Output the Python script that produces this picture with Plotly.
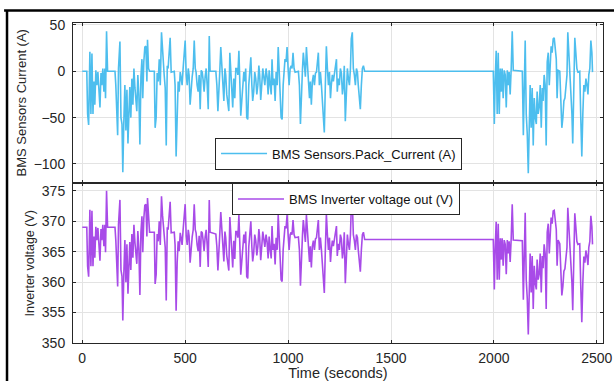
import plotly.graph_objects as go
from plotly.subplots import make_subplots

time_s = [0, 22, 26, 31, 37, 42, 47, 52, 57, 61, 66, 71, 76, 81, 86, 91, 95, 100, 105, 110, 113, 118, 123, 159,
          163, 172, 176, 183, 188, 193, 197, 202, 207, 212, 217, 222, 227, 231, 236, 241, 246, 251, 256, 261, 265,
          270, 275, 280, 285, 290, 294, 299, 304, 309, 314, 317, 322, 327, 350,
          354, 359, 364, 369, 374, 379, 385, 390, 395, 398, 403, 408, 413, 417,
          427, 432, 447, 451, 456, 461, 466, 471, 476, 481, 485, 490, 495, 500, 505, 510, 515, 519, 524, 529, 534,
          539, 544, 549, 553, 558, 563, 568, 573, 578, 583, 587, 592, 597, 602, 607, 612, 617, 621, 649,
          654, 659, 663, 668, 673, 678, 683, 688, 693, 697, 702, 707, 712, 717, 722, 727, 731, 736, 741, 746, 751,
          756, 761, 765, 770, 775, 780, 785, 790, 794, 799, 804, 809, 814, 819, 824, 828, 833, 838, 843, 848, 853,
          858, 862, 867, 872, 877, 882, 887,
          893, 898, 903, 908, 913, 918, 922, 927, 932, 937, 942, 947, 952, 956, 961, 966, 971, 976, 981, 985, 990,
          995, 1000, 1005, 1010, 1015, 1019, 1024, 1029, 1034, 1050, 1055, 1060, 1065, 1070, 1074, 1079, 1084,
          1089, 1094, 1099, 1104, 1108, 1113, 1118, 1123, 1128, 1133, 1138, 1142, 1147, 1152, 1157, 1162, 1167,
          1172, 1176, 1181, 1186, 1191, 1196, 1201, 1206, 1210, 1215, 1220, 1225, 1230, 1235, 1239, 1244, 1249,
          1254, 1259, 1264, 1269, 1273, 1278, 1283, 1288, 1293, 1298, 1303, 1307, 1312, 1317, 1322, 1327, 1332,
          1337, 1341, 1346, 1351, 1356, 1361, 1366, 1372, 1997,
          2002, 2006, 2011, 2016, 2021, 2026, 2031, 2036, 2040, 2045, 2050, 2055, 2060, 2065, 2070, 2074, 2079,
          2084, 2089, 2094, 2138, 2143, 2147, 2152, 2157, 2162, 2167, 2172, 2176, 2181, 2186, 2191, 2196, 2201,
          2206, 2210, 2215, 2220, 2225, 2230, 2235, 2239, 2244, 2249, 2254, 2259, 2264, 2269, 2273, 2278, 2283,
          2288, 2293, 2298, 2303, 2307, 2312, 2320, 2325, 2330, 2335, 2340, 2345, 2350, 2355, 2359, 2364, 2369,
          2374, 2379, 2383, 2388, 2393, 2398, 2403, 2408, 2417, 2422, 2427, 2432, 2437, 2442, 2447, 2452, 2457,
          2461, 2466, 2471, 2476, 2479]

pack_current = [0, 0, -46, -58, 21, -46, 19, -46, -11, -36, 1, -15, -1, -25, -39, -2, -15, 3, -22, 3, -29, 43, 0, 0,
                -15, -69, 3, 32, -50, -57, -109, -54, -15, -64, -20, -78, -36, -17, -50, -8, -36, 3, -18, -32, -43,
                -4, -25, -79, -6, 13, -29, 10, 26, 27, -11, 34, 3, 0, 0,
                -61, -50, -2, -11, 13, -15, 42, 20, 6, -4, -18, -80, 6, 3,
                36, -1, 0, -15, -92, -36, -11, -22, -1, -8, -15, 3, 17, 33, -4, -15, 3, -4, -36, -15, -6,
                3, 33, 3, -1, -15, -22, -4, -41, 1, -1, -9, -22, -6, 3, -15, -41, 38, 0, 0,
                -15, -43, -15, -1, 26, 3, -15, -32, 3, -4, -25, -36, -43, 20, -1, -15, -39, -8, -29, 3, 3,
                -4, 22, -8, -48, -32, -15, -1, -11, 3, -50, -52, -15, 6, 15, -15, -32, -22, -1, -8, -25, -15,
                6, -4, -31, -15, 3, -6, -15,
                3, -6, -25, 1, -15, -25, 13, -15, -8, -32, -1, -15, 26, -4, -22, -50, -52, -15, -1, 13, 10,
                26, 3, -15, 3, 6, 3, 20, 3, -1, 0, -15, -57, -15, 3, 20, 3, -6,
                26, 6, -15, -29, -11, -36, -11, -4, -15, -2, -1, 10, 20, -15, -1, -15, -32,
                -46, -66, -15, 27, 3, -15, -1, -29, -15, -4, -11, -1, 3, 13, -22, -8, -15,
                3, -2, -25, -15, 6, -54, -15, 3, -8, -15, 3, 35, 42, 3, -4, -15, 3,
                -1, -15, -32, -41, -15, 3, 6, 0, 0,
                -57, -11, 22, -46, 20, -46, 3, -22, 3, -29, 1, -4, -39, 1, -15, -1, -25,
                3, 43, 1, 0, -69, 5, 33, -46, -68, -110, -43, -15, -61, -18, -80, -29, -50,
                -57, -22, -46, -39, -15, -61, -18, -32, -4, -15, -80, 10, 20, -15, 13, 27, 20,
                35, 36, 27, 13, -29, 1, 0, -38, -61, -50, -32, -29, -11, -4, 42, 20, 6,
                -15, -46, -78, -15, 36, 20, 3, -1, 0, -50, -92, -46, -15, -22, -8, -15, -25,
                -4, 3, 33, 20, -1]

inverter_voltage = [369.0, 369.0, 362.6, 360.9, 371.9, 362.6, 371.7, 362.6, 367.5, 364.0, 369.1, 366.9, 368.9, 365.5,
                    363.5, 368.7, 366.9, 369.4, 365.9, 369.4, 364.9, 375.0, 369.0, 369.0,
                    366.9, 359.3, 369.4, 373.5, 362.0, 361.0, 353.7, 361.4, 366.9, 360.0, 366.2, 358.1, 364.0,
                    366.6, 362.0, 367.9, 364.0, 369.4, 366.5, 364.5, 363.0, 368.4, 365.5, 357.9, 368.2, 370.8,
                    364.9, 370.4, 372.6, 372.8, 367.5, 373.8, 369.4, 368.2, 368.2,
                    359.7, 361.2, 367.9, 366.7, 370.0, 366.1, 374.1, 371.0, 369.0, 367.6, 365.7, 357.0, 369.0, 368.6,
                    373.2, 368.1, 368.2, 366.1, 355.3, 363.2, 366.7, 365.1, 368.1, 367.1, 366.1, 368.6, 370.6,
                    372.8, 367.6, 366.1, 368.6, 367.6, 363.2, 366.1, 367.4,
                    368.6, 372.8, 368.6, 368.1, 366.1, 365.1, 367.6, 362.5, 368.3, 368.1, 366.9, 365.1, 367.4,
                    368.6, 366.1, 362.5, 373.5, 368.2, 367.9,
                    365.8, 361.9, 365.8, 367.8, 371.5, 368.3, 365.8, 363.4, 368.3, 367.3, 364.4, 362.9, 361.9,
                    370.7, 367.8, 365.8, 362.4, 366.8, 363.8, 368.3, 368.3,
                    367.3, 371.0, 366.8, 361.2, 363.4, 365.8, 367.8, 366.4, 368.3, 360.9, 360.6, 365.8, 368.7,
                    370.0, 365.8, 363.4, 364.8, 367.8, 366.8, 364.4, 365.8,
                    368.7, 367.3, 363.6, 365.8, 368.3, 367.1, 365.8,
                    367.8, 366.6, 363.9, 367.5, 365.3, 363.9, 369.2, 365.3, 366.3, 362.9, 367.3, 365.3, 371.0,
                    366.8, 364.3, 360.4, 360.1, 365.3, 367.3, 369.2, 368.8,
                    371.0, 367.8, 365.3, 367.8, 368.2, 367.8, 370.2, 367.8, 367.3, 367.4, 365.3, 359.4, 365.3,
                    367.8, 370.2, 367.8, 366.6,
                    371.0, 368.2, 365.3, 363.3, 365.9, 362.4, 365.9, 366.8, 365.3, 367.1, 367.3, 368.8, 370.2,
                    365.3, 367.3, 365.3, 362.9,
                    361.0, 358.2, 365.3, 371.2, 367.8, 365.3, 367.3, 363.3, 365.3, 366.8, 365.9, 367.3, 367.8,
                    369.2, 364.3, 366.3, 365.3,
                    367.8, 367.1, 363.9, 365.3, 368.2, 359.8, 365.3, 367.8, 366.3, 365.3, 367.8, 372.3, 373.3,
                    367.8, 366.8, 365.3, 367.8,
                    367.3, 365.3, 362.9, 361.7, 365.3, 367.8, 368.2, 367.0, 367.0,
                    358.8, 365.3, 369.9, 360.4, 369.6, 360.4, 367.2, 363.7, 367.2, 362.7, 366.9, 366.2, 361.3,
                    366.9, 364.7, 366.7, 363.3,
                    367.2, 372.8, 366.9, 366.8, 357.1, 367.5, 371.4, 360.4, 357.3, 351.4, 360.8, 364.7, 358.3,
                    364.3, 355.6, 362.7, 359.8,
                    358.8, 363.7, 360.4, 361.3, 364.7, 358.3, 364.3, 362.3, 366.2, 364.7, 355.6, 368.2, 369.6,
                    364.7, 368.6, 370.6, 369.6,
                    371.7, 371.8, 370.6, 368.6, 362.7, 366.9, 366.3, 361.0, 357.8, 359.3, 361.8, 362.2, 364.8,
                    365.7, 372.2, 369.1, 367.1,
                    364.2, 359.9, 355.4, 364.2, 371.3, 369.1, 366.7, 366.2, 366.3, 359.3, 353.4, 359.9, 364.2,
                    363.2, 365.2, 364.2, 362.8,
                    365.7, 366.7, 370.9, 369.1, 366.2]

x_ticks = [0, 500, 1000, 1500, 2000, 2500]
current_ticks = [-100, -50, 0, 50]
voltage_ticks = [350, 355, 360, 365, 370, 375]

FONT = "Liberation Sans, Arial, Helvetica, sans-serif"
AX = "#262626"
GRID = "#e3e3e3"

fig = make_subplots(rows=2, cols=1, shared_xaxes=True, vertical_spacing=0.003)

fig.add_trace(go.Scatter(x=time_s, y=pack_current, mode="lines",
                         line=dict(color="#4DBEEE", width=1.6), showlegend=True,
                         name="BMS Sensors.Pack_Current (A)", legend="legend"), row=1, col=1)
fig.add_trace(go.Scatter(x=time_s, y=inverter_voltage, mode="lines",
                         line=dict(color="#A84BE8", width=1.6), showlegend=True,
                         name="BMS Inverter voltage out (V)", legend="legend2"), row=2, col=1)

common_axis = dict(showline=True, linecolor=AX, linewidth=1, mirror="ticks", ticks="inside",
                   ticklen=3, tickcolor=AX, showgrid=True, gridcolor=GRID, gridwidth=1,
                   zeroline=False, automargin=False, tickfont=dict(family=FONT, size=14, color=AX))

fig.update_xaxes(**common_axis, range=[-45, 2530], tickvals=x_ticks)
fig.update_xaxes(showticklabels=False, row=1, col=1)
fig.update_xaxes(ticktext=[str(v) for v in x_ticks], ticklabelstandoff=2,
                 title=dict(text="Time (seconds)", font=dict(family=FONT, size=14.5, color=AX), standoff=3),
                 row=2, col=1)
fig.update_yaxes(**common_axis)
fig.update_yaxes(range=[-120, 52], tickvals=current_ticks, ticklabelstandoff=4,
                 title=dict(text="BMS Sensors Current (A)", font=dict(family=FONT, size=13, color=AX), standoff=4),
                 row=1, col=1)
fig.update_yaxes(range=[350, 376.2], tickvals=voltage_ticks, ticklabelstandoff=4,
                 title=dict(text="Inverter voltage (V)", font=dict(family=FONT, size=12.5, color=AX), standoff=4),
                 row=2, col=1)

fig.update_layout(
    width=614, height=381,
    margin=dict(l=73, r=11, t=23, b=38),
    plot_bgcolor="white", paper_bgcolor="white",
    showlegend=True,
    font=dict(family=FONT, size=12, color=AX),
    legend=dict(x=0.268, y=0.642, xanchor="left", yanchor="top", bgcolor="white",
                bordercolor=AX, borderwidth=1, font=dict(family=FONT, size=13, color="#111"),
                itemwidth=46, visible=True),
    legend2=dict(x=0.30, y=0.50, xanchor="left", yanchor="top", bgcolor="white",
                 bordercolor=AX, borderwidth=1, font=dict(family=FONT, size=13, color="#111"),
                 itemwidth=46, visible=True),
    shapes=[
        dict(type="line", xref="paper", yref="paper", x0=-0.13, x1=1.1, y0=1.039, y1=1.039,
             line=dict(color="black", width=2.5), layer="above"),
        dict(type="line", xref="paper", yref="paper", x0=-0.1245, x1=-0.1245, y0=-0.2, y1=1.039,
             line=dict(color="black", width=2.5), layer="above"),
    ],
)

fig.write_html("out.html")
